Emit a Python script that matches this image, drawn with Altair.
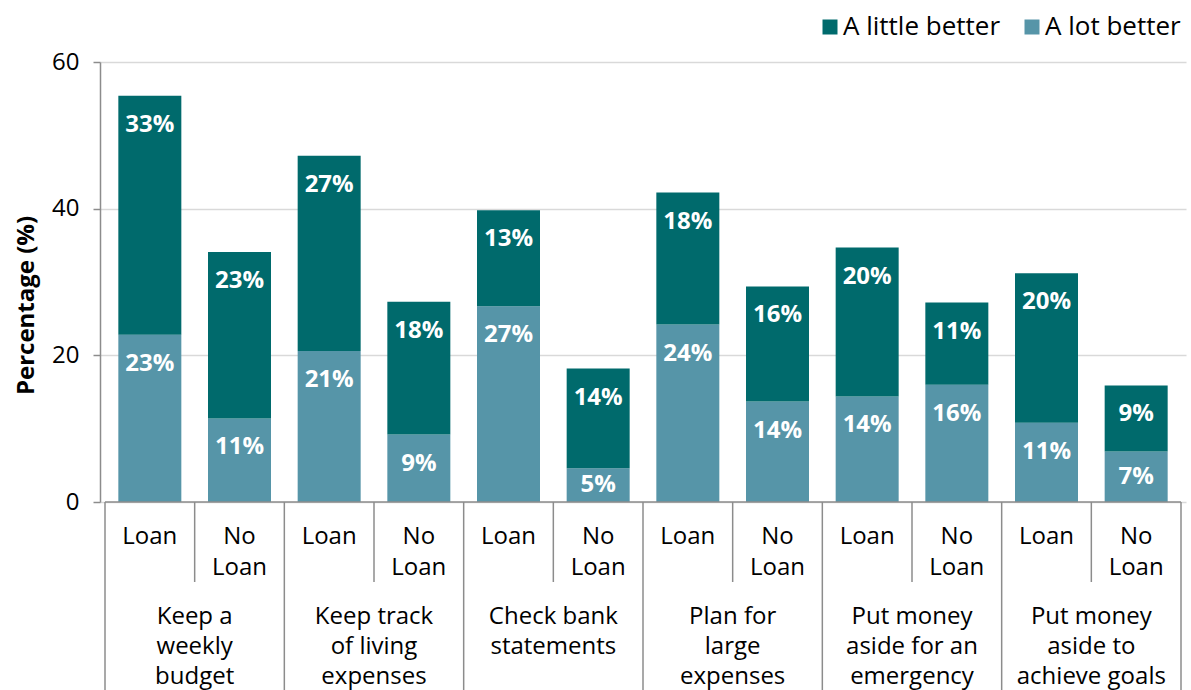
import altair as alt
import pandas as pd

# ---------------- data ----------------
groups = [
    ["Keep a", "weekly", "budget"],
    ["Keep track", "of living", "expenses"],
    ["Check bank", "statements"],
    ["Plan for", "large", "expenses"],
    ["Put money", "aside for an", "emergency"],
    ["Put money", "aside to", "achieve goals"],
]
subgroups = [["Loan"], ["No", "Loan"]]
a_lot_better = [22.8, 11.4, 20.6, 9.2, 26.7, 4.6, 24.2, 13.7, 14.4, 16.0, 10.8, 6.9]
a_little_better = [32.6, 22.7, 26.6, 18.1, 13.1, 13.6, 18.0, 15.7, 20.3, 11.2, 20.4, 9.0]
series_names = ["A little better", "A lot better"]
series_colors = ["#006A6C", "#5695A8"]
y_ticks = [0, 20, 40, 60]

FONT = "Open Sans"
AXIS_GRAY = "#8c8c8c"
n_sub = len(subgroups)
n_bars = len(groups) * n_sub

# ---------------- tables ----------------
bar_rows = []
for i in range(n_bars):
    bar_rows.append(dict(idx=i, series=series_names[1], ord=0, value=a_lot_better[i]))
    bar_rows.append(dict(idx=i, series=series_names[0], ord=1, value=a_little_better[i]))
bars_df = pd.DataFrame(bar_rows)

sub_rows = []
for i in range(n_bars):
    for k, line in enumerate(subgroups[i % n_sub]):
        sub_rows.append(dict(pos=i + 0.5, line=k, text=line))
sub_df = pd.DataFrame(sub_rows)

grp_rows = []
for g, lines in enumerate(groups):
    for k, line in enumerate(lines):
        grp_rows.append(dict(pos=g * n_sub + n_sub / 2, line=k, text=line))
grp_df = pd.DataFrame(grp_rows)

sep_df = pd.DataFrame(
    [dict(b=b, major=(b % n_sub == 0)) for b in range(n_bars + 1)]
)

# ---------------- scales ----------------
xscale = alt.Scale(domain=[0, n_bars], nice=False, zero=False)
yscale = alt.Scale(domain=[0, 60], range=[440, 0], nice=False)

yaxis = alt.Axis(
    values=y_ticks,
    grid=True,
    gridColor="#d9d9d9",
    gridWidth=1.5,
    domainColor=AXIS_GRAY,
    domainWidth=1.5,
    tickColor=AXIS_GRAY,
    tickWidth=1.5,
    tickSize=7,
    labelFont=FONT,
    labelFontSize=24,
    labelColor="black",
    labelPadding=14,
    title="Percentage (%)",
    titleFont=FONT,
    titleFontSize=24,
    titleFontWeight="bold",
    titleColor="black",
    titleAngle=270,
    titleX=-74,
    titleY=243,
    titleBaseline="middle",
    titleAlign="center",
)

stacked = alt.Chart(bars_df).transform_calculate(
    pos="datum.idx + 0.5"
).transform_stack(
    stack="value",
    groupby=["idx"],
    as_=["v0", "v1"],
    sort=[alt.SortField("ord", order="ascending")],
)

bars = stacked.mark_bar(size=63).encode(
    x=alt.X("pos:Q", scale=xscale, axis=None),
    y=alt.Y("v0:Q", scale=yscale, axis=yaxis),
    y2="v1:Q",
    color=alt.Color(
        "series:N",
        scale=alt.Scale(domain=series_names, range=series_colors),
        legend=alt.Legend(
            orient="none",
            legendX=717,
            legendY=-48,
            direction="horizontal",
            title=None,
            symbolType="square",
            symbolSize=225,
            symbolStrokeWidth=0,
            symbolOpacity=1,
            labelFont=FONT,
            labelFontSize=26,
            labelColor="black",
            labelOffset=0,
            columnPadding=18,
            padding=0,
        ),
    ),
)

bar_labels = stacked.transform_calculate(
    label="format(datum.value, '.0f') + '%'",
    ly="max(datum.v1 - 3.95, (datum.v0 + datum.v1) / 2)",
).mark_text(
    font=FONT, fontSize=24, fontWeight="bold", color="white", baseline="middle"
).encode(
    x=alt.X("pos:Q", scale=xscale),
    y=alt.Y("ly:Q", scale=yscale),
    text="label:N",
)

# horizontal category axis line
base_line = alt.Chart(pd.DataFrame({"a": [0]})).mark_rule(
    color=AXIS_GRAY, strokeWidth=1.5
).encode(
    x=alt.datum(0, scale=xscale),
    x2=alt.datum(n_bars),
    y=alt.datum(0, scale=yscale),
)

# separators below axis
sep_minor = alt.Chart(sep_df).transform_filter("!datum.major").mark_rule(
    color=AXIS_GRAY, strokeWidth=1.5
).encode(
    x=alt.X("b:Q", scale=xscale),
    y=alt.datum(0, scale=yscale),
    y2=alt.value(520),
)
sep_major = alt.Chart(sep_df).transform_filter("datum.major").mark_rule(
    color=AXIS_GRAY, strokeWidth=1.5
).encode(
    x=alt.X("b:Q", scale=xscale),
    y=alt.datum(0, scale=yscale),
    y2=alt.value(640),
)

text_layers = []
sub_y = [474.5, 505.5]
for k, yy in enumerate(sub_y):
    text_layers.append(
        alt.Chart(sub_df).transform_filter(f"datum.line == {k}").mark_text(
            font=FONT, fontSize=24, color="black", baseline="middle", align="center"
        ).encode(x=alt.X("pos:Q", scale=xscale), y=alt.value(yy), text="text:N")
    )
grp_y = [555, 585, 615]
for k, yy in enumerate(grp_y):
    text_layers.append(
        alt.Chart(grp_df).transform_filter(f"datum.line == {k}").mark_text(
            font=FONT, fontSize=24, color="black", baseline="middle", align="center"
        ).encode(x=alt.X("pos:Q", scale=xscale), y=alt.value(yy), text="text:N")
    )

chart = alt.layer(
    bars, bar_labels, base_line, sep_minor, sep_major, *text_layers
).properties(
    width=1086,
    height=628,
    autosize=alt.AutoSizeParams(type="none"),
    padding={"left": 100, "top": 62, "right": 5, "bottom": 0},
    background="white",
).configure_view(stroke=None)

chart.save("out.html", embed_options={"renderer": "svg", "actions": False})
